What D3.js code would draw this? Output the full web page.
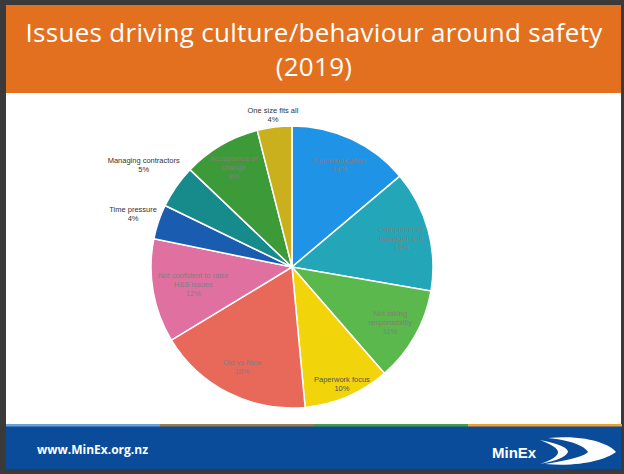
<!DOCTYPE html>
<html><head><meta charset="utf-8">
<script src="https://cdn.jsdelivr.net/npm/d3@7"></script>
<style>body{margin:0;background:#fff}svg{display:block}</style>
</head><body>
<svg id="c" width="624" height="474"></svg>
<script>
const titleLines = ["Issues driving  culture/behaviour around safety", "(2019)"];
const categories = ["Communication", "Complacency management", "Not taking responsibility", "Paperwork focus", "Old vs New", "Not confident to raise H&S issues", "Time pressure", "Managing contractors", "Acceptance of change", "One size fits all"];
const labelLines = [["Communication"], ["Complacency", "management"], ["Not taking", "responsibility"], ["Paperwork focus"], ["Old vs New"], ["Not confident to raise", "H&S issues"], ["Time pressure"], ["Managing contractors"], ["Acceptance of", "change"], ["One size fits all"]];
const values = [14, 14, 11, 10, 18, 12, 4, 5, 9, 4];
const colors = ["#1f93e6", "#23a7b8", "#5ab84c", "#f2d40a", "#e8685a", "#e070a0", "#1a5cb0", "#178a8c", "#3d9a38", "#c9b01c"];
const outside = [false, false, false, false, false, false, true, true, false, true];
const labelRadius = [0.8, 0.8, 0.8, 0.9, 0.79, 0.71, 1.19, 1.28, 0.82, 1.09];

const svg = d3.select("#c");
// frame
svg.append("rect").attr("width",624).attr("height",474).attr("fill","#3a3a3a");
svg.append("rect").attr("x",6).attr("y",5).attr("width",615).attr("height",464).attr("fill","#fff");
svg.append("rect").attr("x",6).attr("y",5).attr("width",615).attr("height",88).attr("fill","#e2701f");
svg.append("rect").attr("x",6).attr("y",426).attr("width",615).attr("height",43).attr("fill","#0a4c9a");
const stripCols = ["#6aa0d8","#9a7a50","#4a9a48","#f0a030"];
stripCols.forEach((c,i)=>svg.append("rect").attr("x",6+i*154).attr("y",424).attr("width",154).attr("height",2.5).attr("fill",c));

svg.selectAll("text.title").data(titleLines).enter().append("text")
  .attr("x",314).attr("y",(d,i)=>42+i*34).attr("text-anchor","middle")
  .attr("fill","#fff").attr("font-family","Open Sans, Liberation Sans, sans-serif")
  .attr("font-size",26).attr("letter-spacing",0.3).text(d=>d);

svg.append("text").attr("x",37).attr("y",454).attr("fill","#fff")
  .attr("font-family","Open Sans, Liberation Sans, sans-serif").attr("font-weight","bold")
  .attr("font-size",12).text("www.MinEx.org.nz");
// logo
const lg = svg.append("g");
lg.append("path").attr("d","M548,438 C590,434 612,446 616,452 C605,460 580,467 545,464 C570,460 585,456 588,452 C585,446 570,440 548,438 Z").attr("fill","#fff");
lg.append("path").attr("d","M540,440 C560,444 568,448 568,452 C566,457 556,461 540,464 C552,460 558,456 558,452 C558,448 550,444 540,440 Z").attr("fill","#fff");
lg.append("text").attr("x",492).attr("y",458).attr("fill","#fff")
  .attr("font-family","Liberation Sans, Arial, sans-serif").attr("font-weight","bold")
  .attr("font-size",15).text("MinEx");

const cx = 292, cy = 267, r = 141;
const pie = d3.pie().sort(null).value(d=>d)(values);
const arc = d3.arc().innerRadius(0).outerRadius(r);
const g = svg.append("g").attr("transform",`translate(${cx},${cy})`);
g.selectAll("path").data(pie).enter().append("path")
  .attr("d",arc).attr("fill",(d,i)=>colors[i]).attr("stroke","#fff").attr("stroke-width",1.5);

pie.forEach((d,i)=>{
  const la = d3.arc().innerRadius(r*labelRadius[i]).outerRadius(r*labelRadius[i]);
  const [x,y] = la.centroid(d);
  const lines = labelLines[i].concat([values[i]+"%"]);
  const t = g.append("text").attr("text-anchor","middle")
    .attr("font-family","Liberation Sans, Arial, sans-serif")
    .attr("font-size",7.5)
    .attr("fill", outside[i] ? "#333" : (i===3 ? "#555" : "#808080"));
  const y0 = y - (lines.length-1)*9/2 + 3;
  lines.forEach((l,j)=>t.append("tspan").attr("x",x).attr("y",y0+j*9).text(l));
});
</script>
</body></html>
